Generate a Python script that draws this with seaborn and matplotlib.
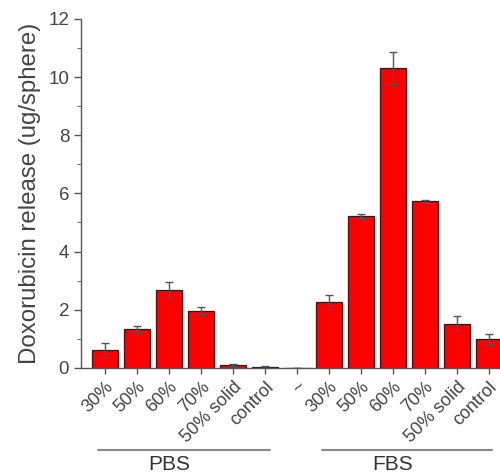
import numpy as np
import pandas as pd
import matplotlib
matplotlib.use("Agg")
import matplotlib.pyplot as plt
import seaborn as sns

# data
conditions = ["PBS 30%", "PBS 50%", "PBS 60%", "PBS 70%", "PBS 50% solid", "PBS control",
              "gap",
              "FBS 30%", "FBS 50%", "FBS 60%", "FBS 70%", "FBS 50% solid", "FBS control"]
tick_labels = ["30%", "50%", "60%", "70%", "50% solid", "control",
               "~",
               "30%", "50%", "60%", "70%", "50% solid", "control"]
release = [0.62, 1.33, 2.69, 1.97, 0.10, 0.03,
           0.0,
           2.27, 5.22, 10.32, 5.73, 1.52, 0.99]
release_err = [0.25, 0.10, 0.25, 0.12, 0.03, 0.02,
               0.0,
               0.24, 0.08, 0.55, 0.05, 0.25, 0.17]
groups = ["PBS", "FBS"]

df = pd.DataFrame({"condition": conditions, "release": release, "err": release_err})

sns.set_style("ticks")
plt.rcParams["font.family"] = ["Liberation Sans", "DejaVu Sans"]

fig = plt.figure(figsize=(5, 4.74), dpi=100)
ax = fig.add_axes([0.162, 0.224, 0.838, 0.736])

sns.barplot(data=df, x="condition", y="release", order=conditions,
            color="#ff0000", saturation=1, width=0.8, errorbar=None,
            edgecolor="#4a0c0c", linewidth=0.9, ax=ax)
ax.errorbar(np.arange(len(conditions)), df["release"], yerr=df["err"],
            fmt="none", ecolor="#555555", elinewidth=1, capsize=3, capthick=1)

ax.set_xlim(-0.75, 12.35)
ax.set_ylim(0, 12)
ax.set_yticks(np.arange(0, 13, 2))
ax.set_yticks(np.arange(1, 12, 2), minor=True)
ax.set_xticks(np.arange(len(conditions)))
ax.set_xticklabels(tick_labels, rotation=45, ha="right", rotation_mode="anchor",
                   fontsize=13, color="#444444")
ax.tick_params(axis="y", labelsize=13.5, labelcolor="#444444", color="#555555",
               length=5, width=1)
ax.tick_params(axis="y", which="minor", length=3, color="#555555")
ax.tick_params(axis="x", length=4, color="#555555", width=1)
ax.set_xlabel("")
ax.set_ylabel("Doxorubicin release (ug/sphere)", fontsize=17.3, color="#444444", labelpad=5)

sns.despine(ax=ax)
for s in ["left", "bottom"]:
    ax.spines[s].set_color("#555555")
    ax.spines[s].set_linewidth(1)

# group brackets under the tick labels
trans = ax.get_xaxis_transform()
spans = [(-0.22, 5.15), (6.8, 12.1)]
centers = [2.0, 9.0]
for name, (x0, x1), xc in zip(groups, spans, centers):
    ax.plot([x0, x1], [-0.235, -0.235], color="#888888", lw=1.5,
            transform=trans, clip_on=False)
    ax.text(xc, -0.276, name, transform=trans, ha="center", va="center",
            fontsize=15, color="#333333")

fig.savefig("out.png", dpi=100)
